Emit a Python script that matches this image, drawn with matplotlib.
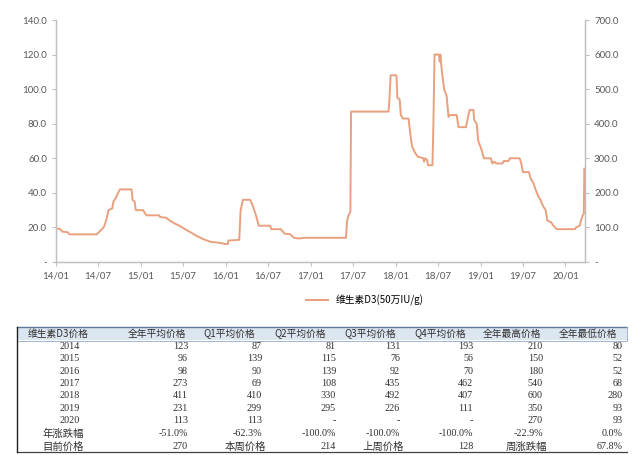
import matplotlib
matplotlib.use('Agg')
import matplotlib.pyplot as plt
import matplotlib.dates as mdates
import numpy as np
import pandas as pd

plt.rcParams['font.family'] = ['Lato', 'Noto Sans CJK SC', 'DejaVu Sans']

# weekly price, 维生素D3 (50万IU/g), right axis units
dates = ['2014-01-01', '2014-01-20', '2014-01-28', '2014-02-20', '2014-02-28', '2014-06-25',
         '2014-07-10', '2014-07-25', '2014-08-05', '2014-08-15', '2014-08-31', '2014-09-05',
         '2014-09-15', '2014-09-25', '2014-10-03', '2014-11-22', '2014-11-26', '2014-12-05',
         '2014-12-10', '2015-01-10', '2015-01-20', '2015-01-25', '2015-03-20', '2015-03-25',
         '2015-04-20', '2015-05-05', '2015-05-25', '2015-06-15', '2015-07-10', '2015-08-05',
         '2015-08-30', '2015-09-30', '2015-10-30', '2015-12-01', '2015-12-31', '2016-01-10',
         '2016-01-12', '2016-02-28', '2016-03-05', '2016-03-15', '2016-04-15', '2016-04-25',
         '2016-05-10', '2016-05-22', '2016-07-10', '2016-07-15', '2016-08-25', '2016-09-10',
         '2016-10-05', '2016-10-20', '2016-11-10', '2016-12-05', '2017-06-01', '2017-06-06',
         '2017-06-12', '2017-06-20', '2017-06-23', '2017-12-01', '2017-12-05', '2017-12-10',
         '2018-01-04', '2018-01-08', '2018-01-18', '2018-01-23', '2018-01-31', '2018-02-25',
         '2018-03-05', '2018-03-12', '2018-03-22', '2018-04-05', '2018-04-30', '2018-05-03',
         '2018-05-07', '2018-05-16', '2018-05-20', '2018-06-08', '2018-06-12', '2018-06-17',
         '2018-07-06', '2018-07-09', '2018-07-12', '2018-07-18', '2018-07-28', '2018-08-08',
         '2018-08-16', '2018-08-20', '2018-09-20', '2018-09-28', '2018-10-30', '2018-11-08',
         '2018-11-15', '2018-12-01', '2018-12-05', '2018-12-15', '2018-12-22', '2019-01-05',
         '2019-01-15', '2019-02-15', '2019-02-20', '2019-03-01', '2019-03-10', '2019-04-05',
         '2019-04-10', '2019-05-01', '2019-05-06', '2019-06-18', '2019-06-25', '2019-07-02',
         '2019-07-28', '2019-08-05', '2019-08-15', '2019-08-28', '2019-09-06', '2019-09-15',
         '2019-09-28', '2019-10-08', '2019-10-15', '2019-10-31', '2019-11-10', '2019-11-25',
         '2020-02-12', '2020-02-15', '2020-03-02', '2020-03-08', '2020-03-15', '2020-03-20',
         '2020-03-22']
price = [97, 95, 88, 86, 80, 80,
         90, 100, 120, 150, 155, 175,
         185, 200, 210, 210, 180, 175,
         150, 150, 140, 135, 135, 130,
         128, 120, 112, 105, 95, 85,
         75, 65, 58, 56, 52, 52,
         62, 64, 150, 180, 180, 165,
         135, 105, 105, 95, 95, 82,
         80, 70, 68, 70, 70, 120,
         135, 145, 435, 435, 470, 540,
         540, 475, 470, 425, 415, 415,
         370, 335, 320, 305, 300, 290,
         300, 295, 280, 280, 400, 600,
         600, 580, 600, 555, 500, 480,
         420, 425, 425, 390, 390, 420,
         440, 440, 410, 400, 350, 325,
         300, 300, 285, 290, 285, 285,
         292, 292, 300, 300, 285, 260,
         260, 240, 230, 205, 190, 180,
         160, 150, 120, 115, 105, 95,
         95, 100, 105, 120, 135, 140,
         270]

# table data
col_head = ['维生素D3价格', '全年平均价格', 'Q1平均价格', 'Q2平均价格', 'Q3平均价格',
            'Q4平均价格', '全年最高价格', '全年最低价格']
years = ['2014', '2015', '2016', '2017', '2018', '2019', '2020']
avg_year = ['123', '96', '98', '273', '411', '231', '113']
avg_q1 = ['87', '139', '90', '69', '410', '299', '113']
avg_q2 = ['81', '115', '139', '108', '330', '295', '-']
avg_q3 = ['131', '76', '92', '435', '492', '226', '-']
avg_q4 = ['193', '56', '70', '462', '407', '111', '-']
max_year = ['210', '150', '180', '540', '600', '350', '270']
min_year = ['80', '52', '52', '68', '280', '93', '93']
yoy = ['年涨跌幅', '-51.0%', '-62.3%', '-100.0%', '-100.0%', '-100.0%', '-22.9%', '0.0%']
now_row = ['目前价格', '270', '本周价格', '214', '上周价格', '128', '周涨跌幅', '67.8%']

line_c = '#e8a07f'
txt_c = '#595959'
grid_c = '#bfbfbf'

fig = plt.figure(figsize=(6.4, 4.55), dpi=100)
ax = fig.add_axes([56/640, 1-262/455, (585-56)/640, (262-20)/455])
ax2 = ax.twinx()

x = pd.to_datetime(dates)
ax2.plot(x, price, color=line_c, lw=1.4, label='维生素D3(50万IU/g)')

ax.set_ylim(0, 140)
ax.set_yticks(np.arange(0, 141, 20))
ax.set_yticklabels(['-'] + ['%.1f' % v for v in np.arange(20, 141, 20)])
ax2.set_ylim(0, 700)
ax2.set_yticks(np.arange(0, 701, 100))
ax2.set_yticklabels(['-'] + ['%.1f' % v for v in np.arange(100, 701, 100)])

ax.set_xlim(pd.Timestamp('2014-01-01'), pd.Timestamp('2020-03-25'))
ax.xaxis.set_major_locator(mdates.MonthLocator(bymonth=[1, 7]))
ax.xaxis.set_major_formatter(mdates.DateFormatter('%y/%m'))

for a in (ax, ax2):
    for s in a.spines.values():
        s.set_color(grid_c)
        s.set_linewidth(0.9)
    a.spines['top'].set_visible(False)
    a.tick_params(colors=grid_c, labelcolor=txt_c, labelsize=7, length=3, width=0.8)
ax.tick_params(axis='x', pad=4)

fig.legend(loc='center', bbox_to_anchor=(365/640, 1-300/455), frameon=False,
           handlelength=2.2, prop={'family': ['Noto Sans CJK SC', 'DejaVu Sans'], 'size': 7})

# table drawn in pixel coordinates
tb = fig.add_axes([0, 0, 1, 1])
tb.set_xlim(0, 640)
tb.set_ylim(455, 0)
tb.axis('off')
tb.patch.set_alpha(0)

tb.add_patch(plt.Rectangle((17, 327), 610, 13, color='#dce6f1', lw=0))
tb.plot([17, 627], [327, 327], color='#5f7897', lw=1.0)
tb.plot([17, 627], [340.5, 340.5], color='#9db6d4', lw=0.7)
tb.plot([17, 627], [452, 452], color='#404040', lw=0.9)
tb.plot([17, 17], [327, 452], color='#202020', lw=1.0)
tb.plot([627, 627], [327, 340], color='#9db6d4', lw=0.7)

cjk = ['Noto Sans CJK SC', 'DejaVu Sans']
serif = ['Liberation Serif', 'Noto Sans CJK SC']
head_x = [58, 157, 229, 300, 370, 440, 512, 588]
right_x = [63, 188, 262, 336, 400, 473, 543, 623]

for hx, h in zip(head_x, col_head):
    tb.text(hx, 334, h, ha='center', va='center', fontsize=7, color='#303030', family=cjk)

cols = [avg_year, avg_q1, avg_q2, avg_q3, avg_q4, max_year, min_year]
row_y = 346.5
for i, yr in enumerate(years):
    yy = row_y + i * 12.35
    tb.text(right_x[0] + 7, yy, yr, ha='center', va='center', fontsize=7.3, color='#303030', family=serif)
    for j, c in enumerate(cols):
        tb.text(right_x[j + 1], yy, c[i], ha='right', va='center', fontsize=7.3, color='#303030', family=serif)

for k, row in enumerate([yoy, now_row]):
    yy = 434 + k * 12.5
    for j, v in enumerate(row):
        if j == 0:
            tb.text(63, yy, v, ha='center', va='center', fontsize=7.5, color='#303030', family=cjk)
        elif v[-1] in '0123456789%':
            tb.text(right_x[j], yy, v, ha='right', va='center', fontsize=7.3, color='#303030', family=serif)
        else:
            tb.text(right_x[j] - 17, yy, v, ha='center', va='center', fontsize=7.5, color='#303030', family=cjk)

fig.savefig('out.png', dpi=100)
